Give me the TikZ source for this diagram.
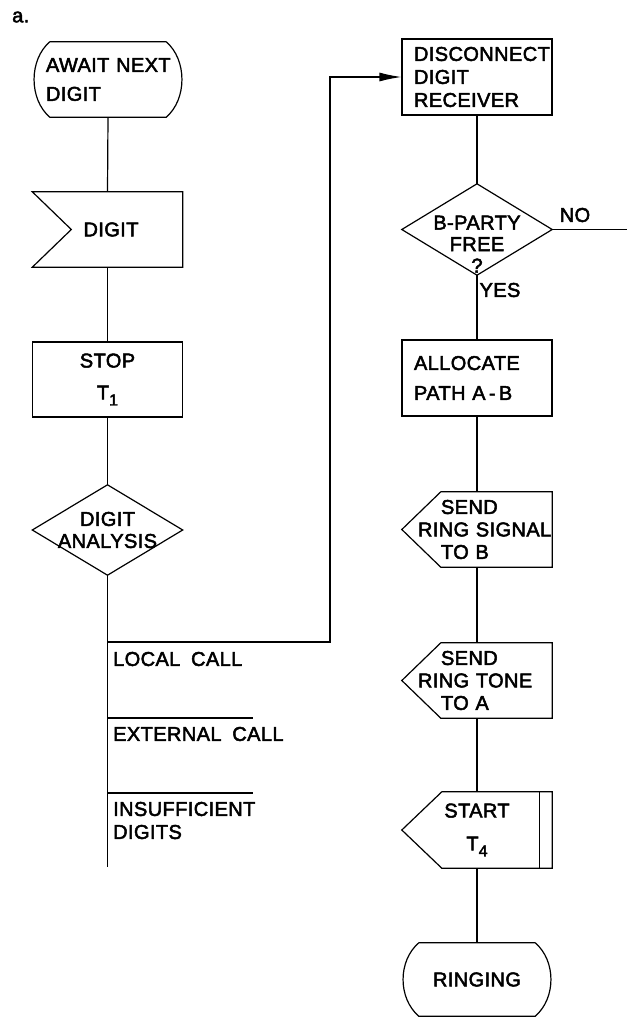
\documentclass[tikz,border=0pt]{standalone}
\usepackage{fontspec}
\setmainfont{Liberation Sans}[WordSpace=1.8,FakeBold=2.5,LetterSpace=2]
\usetikzlibrary{arrows.meta,calc}
\tikzset{
  every node/.style={inner sep=0pt, font=\fontsize{20}{23}\selectfont},
  ln/.style={line width=1.2pt},
  base/.style={draw=none, inner sep=0pt, minimum width=150pt, minimum height=75pt},
  lefttxt/.style={inner xsep=12pt, text width=126pt, align=left},
  sendtxt/.style={inner xsep=16pt, text width=118pt, align=left, font=\fontsize{20}{22.5}\selectfont},
  lbl/.style={inner sep=0pt, anchor=west, align=left},
  arr/.style={ln, -{Latex[length=22pt,width=9pt]}}
}
\newcommand{\sbs}[1]{\raisebox{-6pt}{\fontsize{16}{16}\selectfont #1}}
\begin{document}
\begin{tikzpicture}[x=1pt,y=-1pt]
\useasboundingbox (0,0) rectangle (627,1018);

\node[anchor=west] (alabel) at (12,17) {a.};

% left column
\node[base, lefttxt, text width=124pt, minimum width=148pt] (await) at (108,79.5) {\mbox{AWAIT NEXT}\\[6pt]DIGIT};
\draw[ln] ($(await.north west)+(16,0)$) -- ($(await.north east)+(-16,0)$)
  .. controls +(21,18) and +(21,-18) .. ($(await.south east)+(-16,0)$)
  -- ($(await.south west)+(16,0)$)
  .. controls +(-21,-18) and +(-21,18) .. cycle;

\node[base] (digit) at (107.5,229.5) {\hspace*{7pt}DIGIT};
\draw[ln] (digit.north west) -- (digit.north east) -- (digit.south east) -- (digit.south west) -- ($(digit.west)+(39,0)$) -- cycle;

\node[base, draw, ln, align=center] (stop) at (107.5,379.5) {STOP\\[9pt]T\sbs{1}};

\node[draw=none, minimum width=150pt, minimum height=90pt, align=center, font=\fontsize{20}{22}\selectfont] (da) at (107.5,530) {DIGIT\\ANALYSIS};
\draw[ln] (da.north) -- (da.east) -- (da.south) -- (da.west) -- cycle;

\coordinate (lend) at (107.5,867);
\coordinate (b1) at (107.5,642);
\coordinate (b1c) at (330,642);
\coordinate (b2) at (107.5,718);
\coordinate (b2e) at (253,718);
\coordinate (b3) at (107.5,793);
\coordinate (b3e) at (253,793);

\node[lbl] (lc) at (113,659) {LOCAL CALL};
\node[lbl] (ec) at (113,734) {EXTERNAL CALL};
\node[lbl] (isd) at (113,820.5) {INSUFFICIENT\\DIGITS};

% right column
\node[base, draw, ln, lefttxt, minimum height=76pt] (disc) at (477,77) {\mbox{DISCONNECT}\\DIGIT\\RECEIVER};

\node[draw=none, minimum width=150pt, minimum height=91pt, align=center, font=\fontsize{20}{21.5}\selectfont] (bp) at (477,229.5) {\rule{0pt}{43pt}B-PARTY\\FREE\\?};
\draw[ln] (bp.north) -- (bp.east) -- (bp.south) -- (bp.west) -- cycle;
\coordinate (noend) at (627,229.5);
\node (no) at (575,215) {NO};
\node (yes) at (500,290) {YES};

\node[base, draw, ln, lefttxt, minimum height=76pt] (alloc) at (477,378) {ALLOCATE\\[7pt]\mbox{PATH A\,-\,B}};

\node[base, sendtxt] (sendb) at (477,529.5) {\hspace*{23pt}SEND\\\mbox{RING SIGNAL}\\\hspace*{23pt}TO B};
\draw[ln] (sendb.west) -- ($(sendb.north west)+(39,0)$) -- (sendb.north east) -- (sendb.south east) -- ($(sendb.south west)+(39,0)$) -- cycle;

\node[base, sendtxt] (senda) at (477,680.5) {\hspace*{23pt}SEND\\\mbox{RING TONE}\\\hspace*{23pt}TO A};
\draw[ln] (senda.west) -- ($(senda.north west)+(39,0)$) -- (senda.north east) -- (senda.south east) -- ($(senda.south west)+(39,0)$) -- cycle;

\node[base, minimum height=76pt, align=center] (start) at (477,830) {START\\[10pt]T\sbs{4}};
\draw[ln] (start.west) -- ($(start.north west)+(40,0)$) -- (start.north east) -- (start.south east) -- ($(start.south west)+(40,0)$) -- cycle;
\draw[ln] ($(start.north east)+(-13,0)$) -- ($(start.south east)+(-13,0)$);

\node[base, minimum width=148pt, minimum height=73pt] (ring) at (477,979.5) {RINGING\hspace{14pt}};
\draw[ln] ($(ring.north west)+(16,0)$) -- ($(ring.north east)+(-16,0)$)
  .. controls +(21,18) and +(21,-18) .. ($(ring.south east)+(-16,0)$)
  -- ($(ring.south west)+(16,0)$)
  .. controls +(-21,-18) and +(-21,18) .. cycle;

% connectors
\draw[ln] (await.south) -- (digit.north);
\draw[ln] (digit.south) -- (stop.north);
\draw[ln] (stop.south) -- (da.north);
\draw[ln] (da.south) -- (lend);
\draw[arr] (b1) -- (b1c) |- (disc.west);
\draw[ln] (b2) -- (b2e);
\draw[ln] (b3) -- (b3e);
\draw[ln] (disc.south) -- (bp.north);
\draw[ln] (bp.east) -- (noend);
\draw[ln] (bp.south) -- (alloc.north);
\draw[ln] (alloc.south) -- (sendb.north);
\draw[ln] (sendb.south) -- (senda.north);
\draw[ln] (senda.south) -- (start.north);
\draw[ln] (start.south) -- (ring.north);
\end{tikzpicture}
\end{document}
